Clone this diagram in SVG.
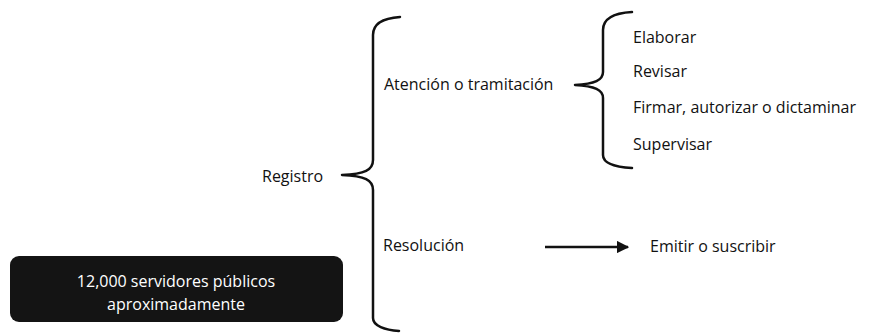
<svg xmlns="http://www.w3.org/2000/svg" width="873" height="333" viewBox="0 0 873 333">
<defs>
<style>
.t{font-family:"Open Sans","Liberation Sans",sans-serif;font-size:16px;fill:#111}
.w{font-family:"Open Sans","Liberation Sans",sans-serif;font-size:16px;fill:#fff;text-anchor:middle}
.br{fill:none;stroke:#111;stroke-width:2.5;stroke-linecap:round;stroke-linejoin:round}
</style>
<marker id="ah" viewBox="0 0 10 10" refX="9" refY="5" markerWidth="5" markerHeight="5" orient="auto" markerUnits="strokeWidth">
<path d="M0,0 L10,5 L0,10 z" fill="#111"/>
</marker>
</defs>
<rect width="873" height="333" fill="#fff"/>
<g id="connectors">
<path class="br" d="M400,17 C385,18 373,22 373,35 L373,160 C373,170 365,174 342,175 C365,176 373,180 373,190 L373,318 C373,326 385,330 399,331"/>
<path class="br" d="M632,12 C615,13 603,18 603,30 L603,72 C603,80 595,84 575,85 C595,86 603,90 603,98 L603,155 C603,163 615,167 632,168"/>
<line x1="545" y1="247" x2="628" y2="247" stroke="#111" stroke-width="2.5" marker-end="url(#ah)"/>
</g>
<g id="box">
<rect x="10" y="256" width="333" height="66" rx="9" fill="#141414"/>
<text class="w" x="176" y="287">12,000 servidores públicos</text>
<text class="w" x="176" y="310">aproximadamente</text>
</g>
<g id="registro"><text class="t" x="262" y="182">Registro</text></g>
<g id="atencion"><text class="t" x="384" y="90">Atención o tramitación</text></g>
<g id="resolucion"><text class="t" x="383" y="251">Resolución</text></g>
<g id="elaborar"><text class="t" x="633" y="43">Elaborar</text></g>
<g id="revisar"><text class="t" x="633" y="77">Revisar</text></g>
<g id="firmar"><text class="t" x="633" y="113">Firmar, autorizar o dictaminar</text></g>
<g id="supervisar"><text class="t" x="633" y="150">Supervisar</text></g>
<g id="emitir"><text class="t" x="650" y="252">Emitir o suscribir</text></g>
</svg>
